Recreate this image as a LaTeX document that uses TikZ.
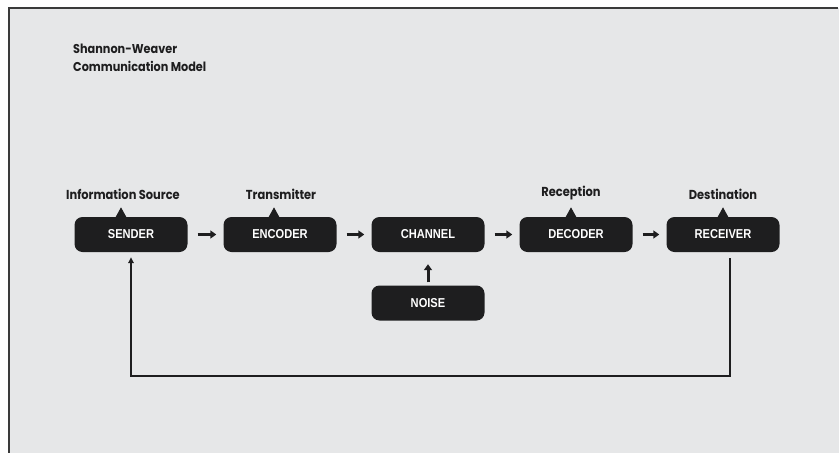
\documentclass[tikz,border=0pt]{standalone}
\usepackage{fontspec}
\usetikzlibrary{arrows.meta,calc,positioning}
\newfontfamily\labelfont{Poppins}[FakeStretch=0.88]
\newfontfamily\boxfont{Liberation Sans}[FakeStretch=0.86]
\definecolor{paper}{HTML}{E6E7E8}
\definecolor{ink}{HTML}{1E1E1F}
\definecolor{frame}{HTML}{3A3A3A}
\tikzset{
  stage/.style={draw=none, fill=ink, rounded corners=8pt, minimum width=113pt,
    minimum height=35pt, inner sep=0pt, text=white,
    font=\boxfont\bfseries\fontsize{12.9}{14}\selectfont},
  role/.style={inner sep=0pt, text=ink, font=\labelfont\bfseries\fontsize{13}{15}\selectfont},
  flow/.style={draw=ink, line width=3pt, -{Triangle[length=6pt,width=8pt]}},
  loop/.style={draw=ink, line width=1.8pt, -{Triangle[length=6pt,width=5.5pt]}},
  tab/.style={fill=ink, draw=none}
}
\begin{document}
\begin{tikzpicture}[x=1pt, y=-1pt]
  \useasboundingbox (0,0) rectangle (839,453);
  % page and frame
  \fill[white] (0,0) rectangle (839,453);
  \fill[paper] (9,8) rectangle (839,453);
  \draw[frame, line width=1.6pt] (9,453) -- (9,8) -- (838,8);

  % heading
  \node[role, anchor=north west, align=left, font=\labelfont\bfseries\fontsize{12.8}{18}\selectfont]
    (title) at (73,44) {Shannon-Weaver\\Communication Model};

  % stages
  \node[stage] (sender)   at (131,234.5) {SENDER};
  \node[stage] (encoder)  at (280,234.5) {ENCODER};
  \node[stage] (channel)  at (428,234.5) {CHANNEL};
  \node[stage] (decoder)  at (576,234.5) {DECODER};
  \node[stage] (receiver) at (723,234.5) {RECEIVER};
  \node[stage] (noise)    at (428,303)   {NOISE};

  % pointer tabs on top of the stages
  \foreach \n/\dx in {sender/-10, encoder/-6, decoder/-5, receiver/0}{
    \fill[tab] ($(\n.north)+(\dx-5.5,0.5)$) -- ($(\n.north)+(\dx,-9.5)$)
      -- ($(\n.north)+(\dx+5.5,0.5)$) -- cycle;
  }

  % role labels
  \node[role] (source)  at (123,194) {Information Source};
  \node[role] (transm)  at (281,194) {Transmitter};
  \node[role] (recept)  at (571,193) {Reception};
  \node[role] (dest)    at (723,194) {Destination};

  % forward flow
  \draw[flow, shorten <=10pt, shorten >=7pt] (sender) -- (encoder);
  \draw[flow, shorten <=10pt, shorten >=7pt] (encoder) -- (channel);
  \draw[flow, shorten <=10pt, shorten >=7pt] (channel) -- (decoder);
  \draw[flow, shorten <=10pt, shorten >=7pt] (decoder) -- (receiver);
  \draw[flow, shorten <=3pt, shorten >=12pt] (noise) -- (channel);

  % feedback loop
  \coordinate (fbstart) at ($(receiver.south)+(7,6)$);
  \coordinate (fbbottom) at (730,376);
  \draw[loop, shorten >=5pt] (fbstart) -- (fbbottom) -| (sender.south);
\end{tikzpicture}
\end{document}
